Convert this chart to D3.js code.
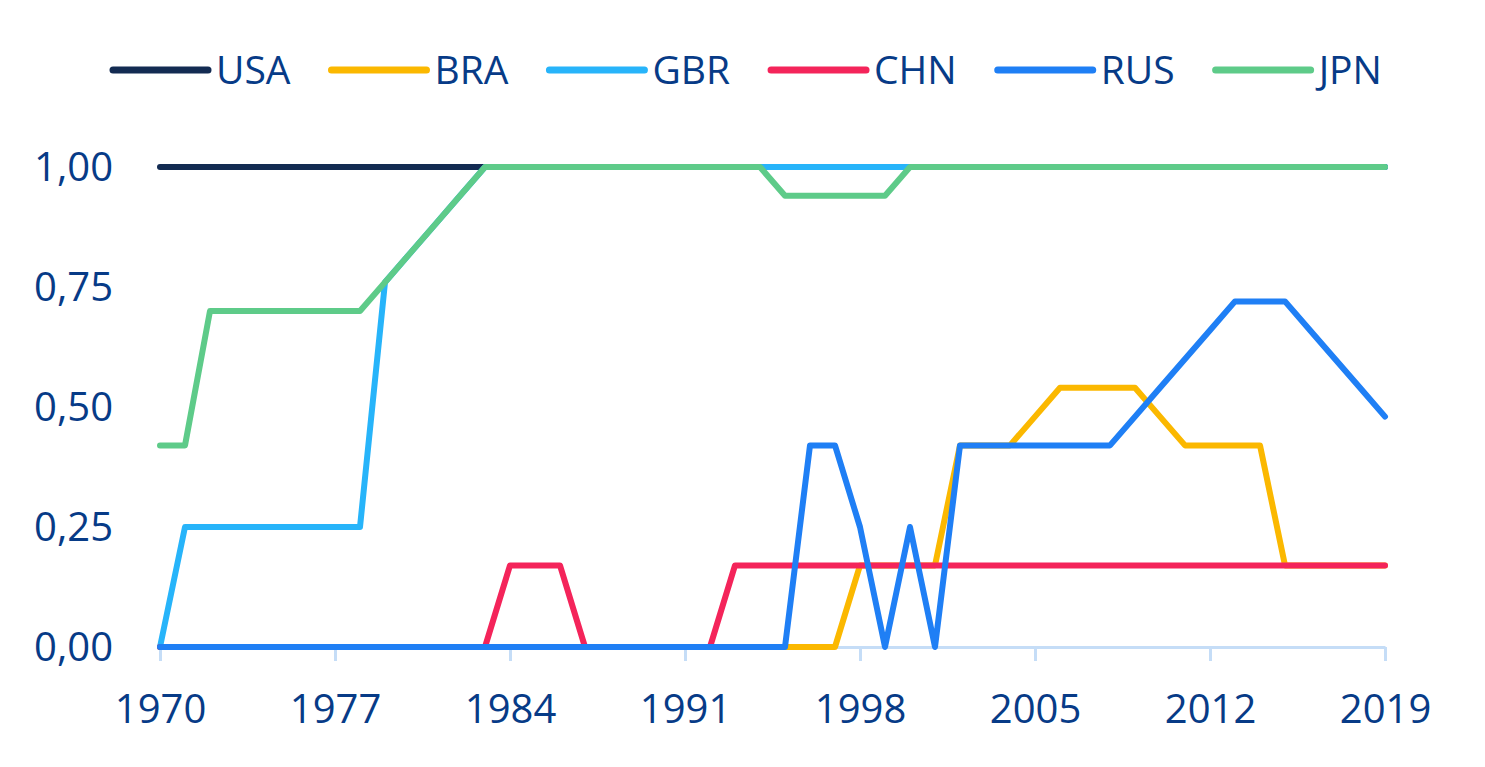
<!DOCTYPE html>
<html>
<head>
<meta charset="utf-8">
<script src="https://cdn.jsdelivr.net/npm/d3@7"></script>
<style>
  body { margin: 0; background: #fff; }
  text { font-family: "Open Sans", sans-serif; fill: #073b87; }
</style>
</head>
<body>
<svg id="chart"></svg>
<script>
var w = 1485;
var h = 767;

// data
var years = d3.range(1970, 2020);
var yTicks = [0, 0.25, 0.5, 0.75, 1];
var xTicks = [1970, 1977, 1984, 1991, 1998, 2005, 2012, 2019];

var usa = years.map(function () { return 1; });
var bra = [0,0,0,0,0,0,0,0,0,0, 0,0,0,0,0,0,0,0,0,0, 0,0,0,0,0,0,0,0,0.17,0.17,
           0.17,0.17,0.42,0.42,0.42,0.48,0.54,0.54,0.54,0.54, 0.48,0.42,0.42,0.42,0.42,0.17,0.17,0.17,0.17,0.17];
var gbr = [0,0.25,0.25,0.25,0.25,0.25,0.25,0.25,0.25,0.76, 0.82,0.88,0.94,1,1,1,1,1,1,1,
           1,1,1,1,1,1,1,1,1,1, 1,1,1,1,1,1,1,1,1,1, 1,1,1,1,1,1,1,1,1,1];
var chn = [0,0,0,0,0,0,0,0,0,0, 0,0,0,0,0.17,0.17,0.17,0,0,0, 0,0,0,0.17,0.17,0.17,0.17,0.17,0.17,0.17,
           0.17,0.17,0.17,0.17,0.17,0.17,0.17,0.17,0.17,0.17, 0.17,0.17,0.17,0.17,0.17,0.17,0.17,0.17,0.17,0.17];
var rus = [0,0,0,0,0,0,0,0,0,0, 0,0,0,0,0,0,0,0,0,0, 0,0,0,0,0,0,0.42,0.42,0.25,0,
           0.25,0,0.42,0.42,0.42,0.42,0.42,0.42,0.42,0.48, 0.54,0.60,0.66,0.72,0.72,0.72,0.66,0.60,0.54,0.48];
var jpn = [0.42,0.42,0.70,0.70,0.70,0.70,0.70,0.70,0.70,0.76, 0.82,0.88,0.94,1,1,1,1,1,1,1,
           1,1,1,1,1,0.94,0.94,0.94,0.94,0.94, 1,1,1,1,1,1,1,1,1,1, 1,1,1,1,1,1,1,1,1,1];

var names = ["USA", "BRA", "GBR", "CHN", "RUS", "JPN"];
var colors = ["#132b52", "#fbb800", "#27b4fa", "#f4245a", "#1f7ff5", "#5ecb89"];
var series = [usa, bra, gbr, chn, rus, jpn];

var svg = d3.select("#chart")
  .attr("width", w)
  .attr("height", h);

var x = d3.scaleLinear().domain([1970, 2019]).range([160, 1385]);
var y = d3.scaleLinear().domain([0, 1]).range([647, 167]);

// y labels, no axis line
svg.append("g")
  .selectAll("text")
  .data(yTicks)
  .join("text")
  .attr("x", 113)
  .attr("y", function (d) { return y(d); })
  .attr("dy", "0.36em")
  .attr("text-anchor", "end")
  .style("font-size", "40px")
  .text(function (d) { return d.toFixed(2).replace(".", ","); });

// x axis
var xAxis = svg.append("g")
  .attr("transform", "translate(0," + y(0) + ")")
  .call(d3.axisBottom(x).tickValues(xTicks).tickFormat(d3.format("d")).tickSize(14).tickSizeOuter(0));
xAxis.select(".domain").attr("stroke", "#c5ddf7").attr("stroke-width", 3);
xAxis.selectAll(".tick line").attr("stroke", "#c5ddf7").attr("stroke-width", 3);
xAxis.selectAll(".tick text")
  .attr("y", 76)
  .attr("dy", 0)
  .style("font-size", "40px")
  .style("font-family", "'Open Sans', sans-serif")
  .attr("fill", "#073b87");

var line = d3.line()
  .x(function (d, i) { return x(years[i]); })
  .y(function (d) { return y(d); });

svg.append("g")
  .selectAll("path")
  .data(series)
  .join("path")
  .attr("d", line)
  .attr("fill", "none")
  .attr("stroke", function (d, i) { return colors[i]; })
  .attr("stroke-width", 6)
  .attr("stroke-linejoin", "round")
  .attr("stroke-linecap", "round");

// legend
var lx = 113;
names.forEach(function (n, i) {
  var g = svg.append("g").attr("transform", "translate(" + lx + ",70)");
  g.append("line")
    .attr("x1", 0).attr("x2", 95)
    .attr("stroke", colors[i])
    .attr("stroke-width", 7)
    .attr("stroke-linecap", "round");
  var t = g.append("text")
    .attr("x", 103)
    .attr("y", 14)
    .style("font-size", "39px")
    .text(n);
  lx += 103 + t.node().getComputedTextLength() + 41;
});
</script>
</body>
</html>
